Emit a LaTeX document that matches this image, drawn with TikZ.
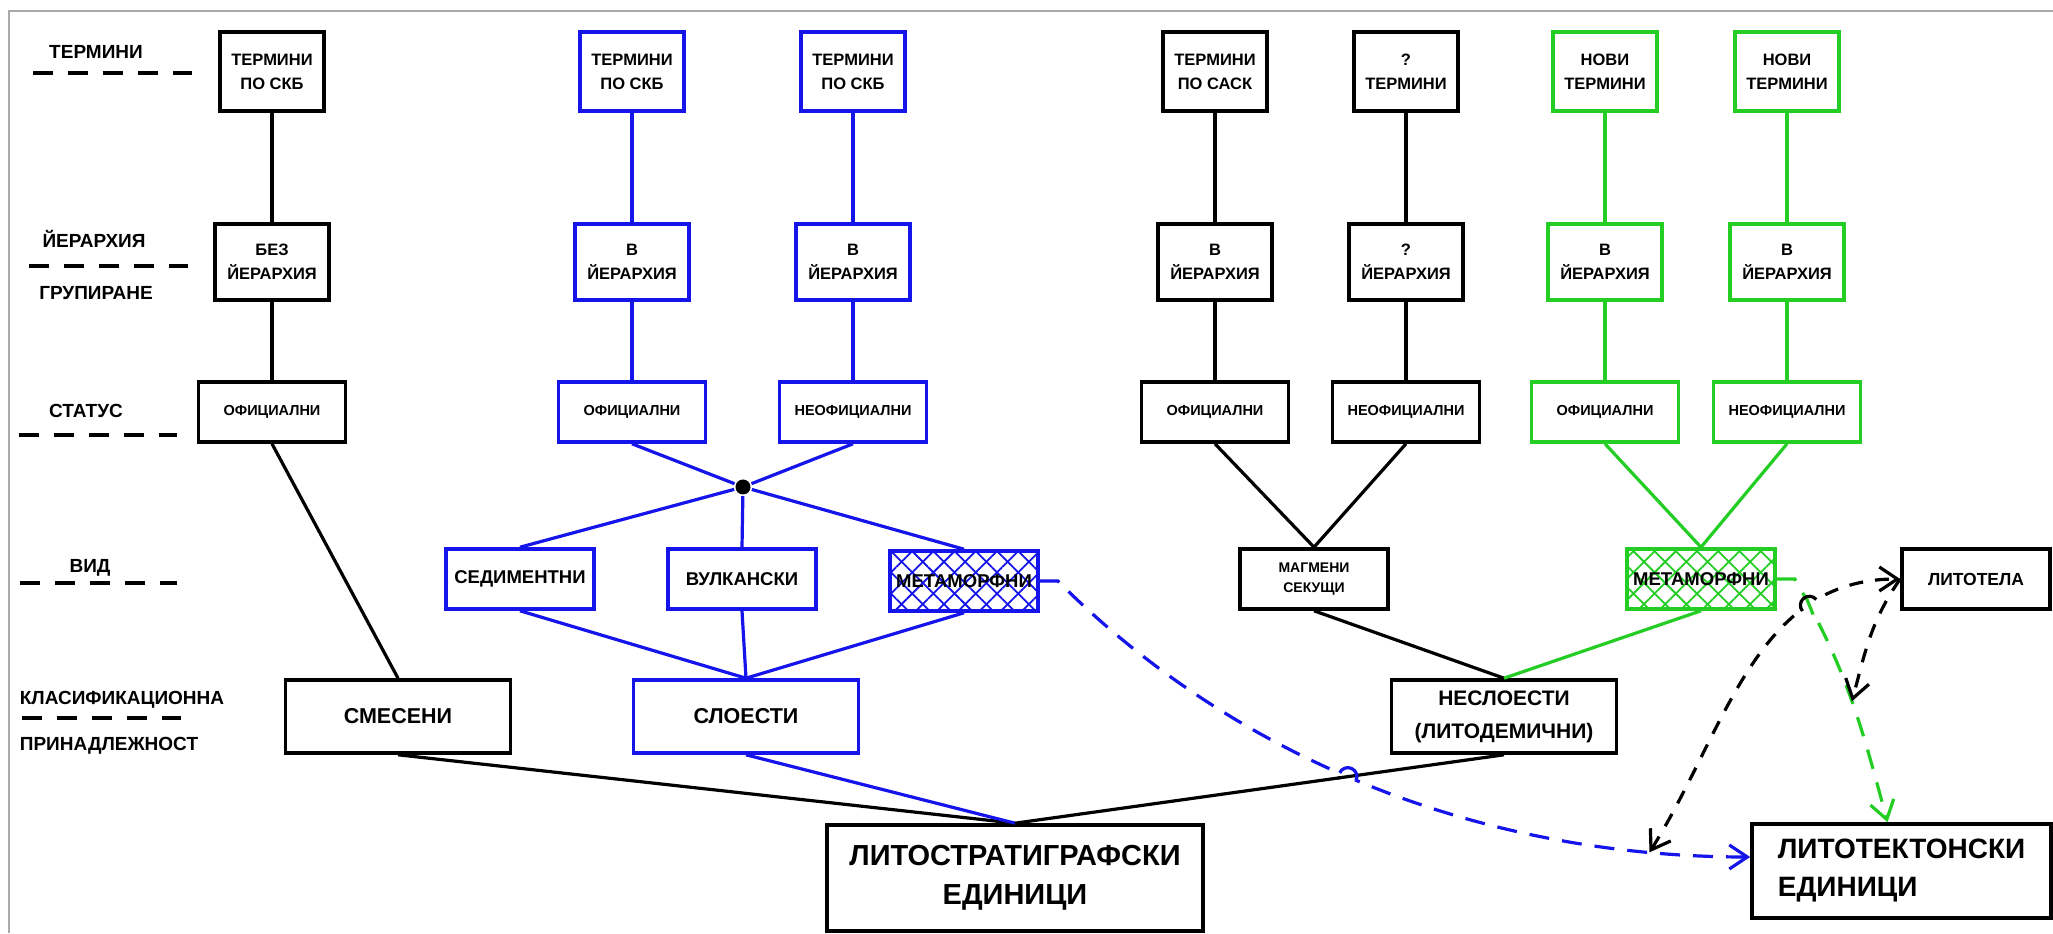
\documentclass[tikz,border=0pt]{standalone}
\usepackage{fontspec}
\setmainfont{Liberation Sans}
\usetikzlibrary{arrows.meta, positioning, calc, patterns.meta, intersections}
\definecolor{plavo}{RGB}{20,20,235}
\definecolor{zeleno}{RGB}{35,205,35}
\definecolor{ramka}{RGB}{170,170,170}

\begin{document}
\begin{tikzpicture}[x=0.5pt, y=0.5pt, line width=1.6pt,
        kutija/.style={draw=#1, line width=1.8pt, align=center, inner sep=0pt},
        srafura/.style={postaction={pattern={Lines[angle=45,distance=7.5pt,line width=.9pt]}, pattern color=#1},
                        postaction={pattern={Lines[angle=-45,distance=7.5pt,line width=.9pt]}, pattern color=#1}},
        vid/.style={minimum width=74pt, minimum height=30pt, font=\fontsize{9.25}{11}\selectfont\bfseries},
        klasa/.style={minimum width=112.5pt, minimum height=36.5pt, font=\fontsize{10.75}{16.5}\selectfont\bfseries},
        strelka/.style={-{Straight Barb[length=9pt,width=12pt]}}]
        \useasboundingbox (0,0) rectangle (2053,933);
        \draw[ramka, line width=1pt] (9,0) -- (9,922) -- (2053,922);

        % legenda vlqvo
        \foreach \i/\x/\y/\txt in {1/96/874/ТЕРМИНИ, 2/94/685/ЙЕРАРХИЯ, 3/96/633/ГРУПИРАНЕ, 4/86/515/СТАТУС,
                                   5/90/360/ВИД, 6/122/228/КЛАСИФИКАЦИОННА, 7/109/183/ПРИНАДЛЕЖНОСТ}
            \node[anchor=base, inner sep=0pt, font=\fontsize{9.5}{11}\selectfont\bfseries] (leg\i) at (\x,\y) {\txt};
        \foreach \x/\xx/\y in {33/192/860, 29/188/667, 19/177/498, 20/177/350, 22/181/215}
            \draw[line width=2pt, dash pattern=on 10pt off 7.5pt] (\x,\y) -- (\xx,\y);

        % kolonite: termini, ierarhiq, status
        \foreach \i/\x/\boja/\gore/\sred/\dole in {
                1/272/black/{ТЕРМИНИ\\ПО СКБ}/{БЕЗ\\ЙЕРАРХИЯ}/ОФИЦИАЛНИ,
                2/632/plavo/{ТЕРМИНИ\\ПО СКБ}/{В\\ЙЕРАРХИЯ}/ОФИЦИАЛНИ,
                3/853/plavo/{ТЕРМИНИ\\ПО СКБ}/{В\\ЙЕРАРХИЯ}/НЕОФИЦИАЛНИ,
                4/1215/black/{ТЕРМИНИ\\ПО САСК}/{В\\ЙЕРАРХИЯ}/ОФИЦИАЛНИ,
                5/1406/black/{?\\ТЕРМИНИ}/{?\\ЙЕРАРХИЯ}/НЕОФИЦИАЛНИ,
                6/1605/zeleno/{НОВИ\\ТЕРМИНИ}/{В\\ЙЕРАРХИЯ}/ОФИЦИАЛНИ,
                7/1787/zeleno/{НОВИ\\ТЕРМИНИ}/{В\\ЙЕРАРХИЯ}/НЕОФИЦИАЛНИ}
        {
            \node[kutija=\boja, minimum width=52pt, minimum height=39.5pt,
                  font=\fontsize{8.25}{12}\selectfont\bfseries] (t\i) at (\x,861.5) {\gore};
            \node[kutija=\boja, minimum width=57pt, minimum height=38pt,
                  font=\fontsize{8.25}{12}\selectfont\bfseries] (h\i) at (\x,671) {\sred};
            \node[kutija=\boja, minimum width=73.5pt, minimum height=30pt,
                  font=\fontsize{7.25}{9}\selectfont\bfseries] (s\i) at (\x,521) {\dole};
            \draw[\boja] (t\i) -- (h\i) -- (s\i);
        }

        % vid
        \node[circle, fill=black, inner sep=0pt, minimum size=7.5pt] (tocka) at (743,446) {};
        \node[kutija=plavo, vid] (v1) at (520,354) {СЕДИМЕНТНИ};
        \node[kutija=plavo, vid] (v2) at (742,354) {ВУЛКАНСКИ};
        \node[kutija=plavo, vid, srafura=plavo] (v3) at (964,352) {МЕТАМОРФНИ};
        \node[kutija=black, vid, font=\fontsize{7}{10}\selectfont\bfseries] (v4) at (1314,354) {МАГМЕНИ\\СЕКУЩИ};
        \node[kutija=zeleno, vid, srafura=zeleno] (v5) at (1701,354) {МЕТАМОРФНИ};
        \node[kutija=black, vid, font=\fontsize{8.75}{11}\selectfont\bfseries] (v6) at (1976,354) {ЛИТОТЕЛА};

        % klasifikacionna prinadlejnost
        \node[kutija=black, klasa] (c1) at (398,216.5) {СМЕСЕНИ};
        \node[kutija=plavo, klasa] (c2) at (746,216.5) {СЛОЕСТИ};
        \node[kutija=black, klasa, font=\fontsize{10.5}{16.5}\selectfont\bfseries] (c3) at (1504,216.5) {НЕСЛОЕСТИ\\(ЛИТОДЕМИЧНИ)};

        \node[kutija=black, minimum width=188pt, minimum height=53pt,
              font=\fontsize{14.5}{19.5}\selectfont\bfseries] (lit1) at (1015,55) {ЛИТОСТРАТИГРАФСКИ\\ЕДИНИЦИ};
        \node[kutija=black, align=left, minimum width=149.5pt, minimum height=47pt,
              font=\fontsize{14}{19}\selectfont\bfseries] (lit2) at (1901.5,62) {ЛИТОТЕКТОНСКИ\\ЕДИНИЦИ};

        % vruzki
        \draw (s1.south) -- (c1.north);
        \draw[plavo] (s2.south) -- (tocka) (s3.south) -- (tocka);
        \foreach \j in {1,2,3}
        {
            \draw[plavo] (tocka) -- (v\j.north);
            \draw[plavo] (v\j.south) -- (c2.north);
        }
        \draw (s4.south) -- (v4.north) (s5.south) -- (v4.north) (v4.south) -- (c3.north);
        \draw[zeleno] (s6.south) -- (v5.north) (s7.south) -- (v5.north) (v5.south) -- (c3.north);
        \draw (c1.south) -- (lit1.north);
        \draw[plavo] (c2.south) -- (lit1.north);
        \draw[name path=neslit] (c3.south) -- (lit1.north);

        % prekusnati strelki kum litotektonskite edinici
        \draw[plavo, dash pattern=on 10pt off 6.5pt, strelka, name path=plavapat] (v3.east) -- ++(18,0)
            to[out=-45, in=180, out distance=130pt, in distance=130pt] coordinate[pos=0.87] (bj) ([yshift=7pt]lit2.west);
        \draw[zeleno, dash pattern=on 10pt off 7pt, strelka, name path=zelenapat] (v5.east) -- ++(18,0)
            to[out=-60, in=105] coordinate[pos=0.52] (gj) ([xshift=-7pt]lit2.north);
        \draw[dash pattern=on 7pt off 6pt, {Straight Barb[length=9pt,width=12pt]}-{Straight Barb[length=9pt,width=12pt]},
              name path=crnapat] (bj) to[out=58, in=180] (v6.west);
        \draw[dash pattern=on 7pt off 6pt, strelka] (v6.west) to[out=-125, in=75] (gj);

        % skokove
        \path[name intersections={of=plavapat and neslit, by=skokA}];
        \fill[white] (skokA) circle (4pt);
        \draw ($(skokA)!5pt!(c3.south)$) -- ($(skokA)!5pt!(lit1.north)$);
        \draw[plavo] ($(skokA)+(155:4.5pt)$) arc[start angle=155, end angle=-25, radius=4.5pt];
        \path[name intersections={of=crnapat and zelenapat, by=skokB}];
        \fill[white] (skokB) circle (4pt);
        \draw[zeleno] ($(skokB)+(112:5pt)$) -- ($(skokB)+(-68:5pt)$);
        \draw ($(skokB)+(220:4.5pt)$) arc[start angle=220, end angle=40, radius=4.5pt];
    \end{tikzpicture}
\end{document}
